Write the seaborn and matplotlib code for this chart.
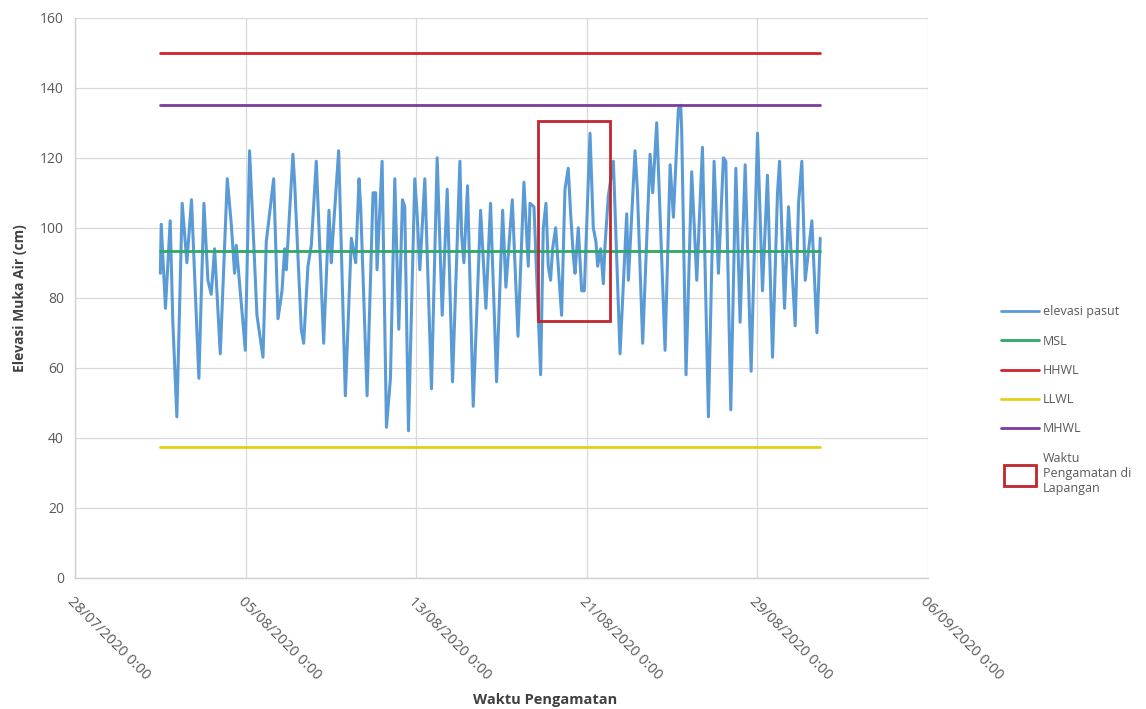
import numpy as np
import pandas as pd
import matplotlib
matplotlib.use("Agg")
import matplotlib.pyplot as plt
import matplotlib.dates as mdates
from matplotlib.patches import Rectangle, Patch
from matplotlib.lines import Line2D
from matplotlib.legend_handler import HandlerPatch
import seaborn as sb

# jam sejak 01/08/2020 0:00 dan elevasi pasut (cm)
jam = [0, 1.0, 5.8, 11.1, 14.1, 18.6, 24.6, 29.9, 35.1, 43.4, 49.1, 53.6, 57.3, 61.1,
       67.5, 75.4, 79.9, 83.6, 85.5, 95.7, 100.5, 108.8, 115.6, 119.3, 127.6, 132.5,
       137, 140, 141.8, 149.3, 151.2, 158.7, 161.4, 166.2, 170.0, 175.6, 183.9, 189.9,
       192.5, 194.4, 200.8, 208.3, 215.1, 220.0, 223.7, 225.6, 232.8, 239.5, 242.5,
       244.0, 249.7, 254.6, 259.1, 264.0, 268.5, 272.6, 275.2, 279.4, 286.5, 289.1,
       292.2, 297.8, 305.3, 311.7, 317.4, 323, 329, 337.3, 339.2, 341.8, 345.9, 352.3,
       360.6, 366.6, 371.8, 378.6, 385.4, 389.1, 396.3, 402.7, 409.4, 414.3, 416.2,
       420.7, 428.2, 431.2, 434.2, 436.8, 439.4, 441.7, 445.1, 451.8, 455.6, 459.3,
       462, 465, 466.9, 470.6, 474.4, 477.4, 483.8, 487.5, 490.5, 492.4, 495.8, 498.8,
       500.7, 504.4, 510.1, 517.6, 525.1, 527, 534.5, 537.1, 543.1, 551.4, 554.4,
       558.9, 568.3, 574, 577.7, 583.3, 585.9, 587, 591.9, 598.3, 604, 610.4, 617.1,
       623.5, 628.4, 634, 636.7, 642.3, 648, 652.8, 658.5, 665.2, 672.4, 678, 683.6,
       689.3, 694.9, 697.2, 702.8, 707.3, 714.8, 718.6, 722.3, 726.1, 733.6, 739.3, 743]
elevasi = [87, 101, 77, 102, 73, 46, 107, 90, 108, 57, 107, 85, 81, 94,
           64, 114, 101, 87, 95, 65, 122, 75, 63, 96, 114, 74,
           82, 94, 88, 121, 113, 71, 67, 89, 95, 119, 67, 105,
           90, 98, 122, 52, 97, 90, 114, 106, 52, 110, 110,
           88, 119, 43, 57, 114, 71, 108, 106, 42, 114, 104,
           88, 114, 54, 120, 75, 111, 56, 119, 98, 90, 112, 49,
           105, 77, 107, 56, 105, 83, 108, 69, 113, 89, 107,
           106, 58, 100, 107, 89, 85, 94, 100, 75, 111, 117,
           104, 92, 87, 100, 82, 82, 127, 100, 96, 89, 94, 84,
           95, 109, 119, 64, 104, 85, 122, 111, 67, 121, 110,
           130, 65, 118, 103, 134, 135, 128, 58, 116, 85, 123, 46,
           119, 87, 120, 119, 48, 117, 73, 118, 59, 127, 82, 115,
           63, 110, 119, 77, 106, 72, 107, 119, 85, 102, 70, 97]

# muka air acuan (cm)
acuan = ["MSL", "HHWL", "LLWL", "MHWL"]
nilai_acuan = [93.5, 150, 37.5, 135]
warna_acuan = ["#2ea866", "#d0242b", "#e3cf1a", "#7a3c9e"]

# waktu pengamatan di lapangan
kotak_waktu = ["2020-08-18 17:00", "2020-08-22 02:00"]
kotak_elevasi = [73.5, 130.5]

awal = pd.Timestamp("2020-08-01 00:00")
t = awal + pd.to_timedelta(jam, unit="h")
df = pd.DataFrame({"waktu": t, "elevasi": elevasi})

tick_tgl = pd.date_range("2020-07-28", "2020-09-06", freq="8D")

sb.set_style("white")
plt.rcParams["font.family"] = ["Open Sans", "DejaVu Sans"]

fig = plt.figure(figsize=(11.46, 7.09), dpi=100)
ax = fig.add_axes([0.0655, 0.185, 0.744, 0.79])

sb.lineplot(data=df, x="waktu", y="elevasi", ax=ax, color="#5b9bd5", linewidth=2.2,
            label="elevasi pasut", legend=False)

for nama, nilai, warna in zip(acuan, nilai_acuan, warna_acuan):
  ax.plot([t[0], t[-1]], [nilai, nilai], color=warna, linewidth=2.0, label=nama)

x0 = mdates.date2num(pd.Timestamp(kotak_waktu[0]))
x1 = mdates.date2num(pd.Timestamp(kotak_waktu[1]))
ax.add_patch(Rectangle((x0, kotak_elevasi[0]), x1 - x0, kotak_elevasi[1] - kotak_elevasi[0],
                       fill=False, edgecolor="#c0262d", linewidth=2.0, zorder=5))

ax.set_xlim(tick_tgl[0], tick_tgl[-1])
ax.set_ylim(0, 160)
ax.set_yticks(np.arange(0, 161, 20))
ax.set_xticks(tick_tgl)
ax.set_xticklabels([d.strftime("%d/%m/%Y 0:00") for d in tick_tgl], rotation=-45,
                   ha="left", rotation_mode="anchor")
ax.tick_params(axis="both", colors="#595959", labelsize=10, length=0, pad=8)
ax.tick_params(axis="x", labelsize=10.5, pad=12)
ax.grid(True, color="#d9d9d9", linewidth=0.9)
for s in ["top", "right"]:
  ax.spines[s].set_visible(False)
for s in ["left", "bottom"]:
  ax.spines[s].set_color("#d0d0d0")
  ax.spines[s].set_linewidth(1.0)

ax.set_xlabel("Waktu Pengamatan", fontdict={"fontsize": 10.5, "color": "#404040", "fontweight": "bold"})
ax.xaxis.set_label_coords(0.551, -0.205)
ax.set_ylabel("Elevasi Muka Air (cm)", fontdict={"fontsize": 10, "color": "#404040", "fontweight": "bold"},
              labelpad=9)

def kotak_legend(legend, orig_handle, xdescent, ydescent, width, height, fontsize):
  # kotak hampir persegi seperti di grafik asli
  return Rectangle((xdescent + 2, ydescent - 0.9 * height), width * 0.85, height * 2.4)

handles = [Line2D([], [], color="#5b9bd5", linewidth=2)]
handles += [Line2D([], [], color=w, linewidth=2) for w in warna_acuan]
kotak = Patch(facecolor="white", edgecolor="#c0262d", linewidth=2)
handles += [kotak]
labels = ["elevasi pasut"] + acuan + ["Waktu\nPengamatan di\nLapangan"]
leg = fig.legend(handles, labels, loc="upper left", bbox_to_anchor=(0.864, 0.585),
                 frameon=False, fontsize=9, handlelength=3.0, handletextpad=0.3,
                 labelspacing=1.3, labelcolor="#595959",
                 handler_map={kotak: HandlerPatch(patch_func=kotak_legend)})

fig.savefig("out.png", dpi=100)
